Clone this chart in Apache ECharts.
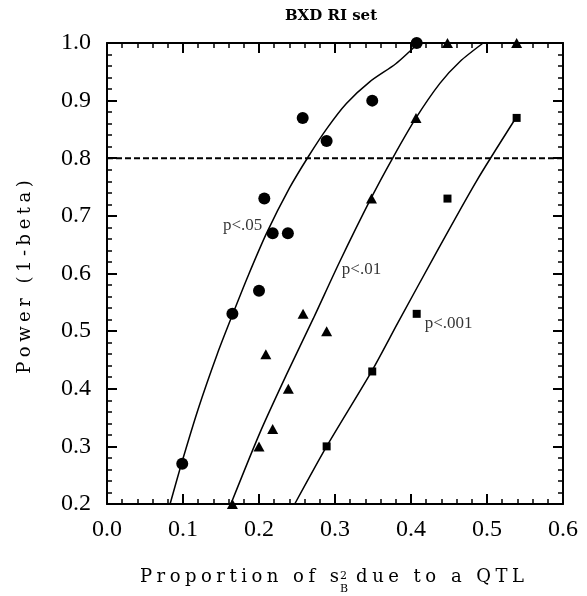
<!DOCTYPE html>
<html><head><meta charset="utf-8">
<script src="https://cdn.jsdelivr.net/npm/echarts@6/dist/echarts.min.js"></script>
<style>html,body{margin:0;padding:0;background:#fff}#c{width:587px;height:596px}</style>
</head><body><div id="c"></div>
<script>
// ---- data ----
const xTickLabels = ['0.0','0.1','0.2','0.3','0.4','0.5','0.6'];
const yTickLabels = ['0.2','0.3','0.4','0.5','0.6','0.7','0.8','0.9','1.0'];

const circleX = [0.099,0.165,0.200,0.207,0.218,0.238,0.2575,0.289,0.349,0.4075];
const circleY = [0.27,0.53,0.57,0.73,0.67,0.67,0.87,0.83,0.90,1.00];

const triX = [0.165,0.200,0.209,0.218,0.2386,0.258,0.289,0.348,0.4066,0.448,0.539];
const triY = [0.20,0.30,0.46,0.33,0.40,0.53,0.50,0.73,0.87,1.00,1.00];

const sqX = [0.289,0.349,0.4075,0.448,0.539];
const sqY = [0.30,0.43,0.53,0.73,0.87];

const curve05X = [0.083,0.098,0.120,0.145,0.165,0.186,0.210,0.240,0.265,0.289,0.315,0.346,0.380,0.410];
const curve05Y = [0.200,0.270,0.365,0.460,0.528,0.597,0.670,0.748,0.803,0.851,0.895,0.933,0.964,1.000];

const curve01X = [0.163,0.201,0.236,0.2715,0.306,0.348,0.377,0.4066,0.438,0.4645,0.495];
const curve01Y = [0.200,0.323,0.424,0.522,0.620,0.732,0.803,0.870,0.930,0.968,1.000];

const curve001X = [0.247,0.289,0.349,0.383,0.434,0.486,0.539];
const curve001Y = [0.200,0.300,0.432,0.515,0.638,0.760,0.872];

const curveLabels = ['p<.05','p<.01','p<.001'];
const curveLabelX = [0.1526,0.309,0.418];
const curveLabelY = [0.684,0.607,0.514];

const thresholdY = 0.8;
const xRange = [0,0.6];
const yRange = [0.2,1.0];

const chartTitle = 'BXD RI set';
const yTitle = 'Power (1-beta)';
const xTitleParts = ['Proportion of s','2','B','due to a QTL'];

// ---- helpers ----
const zip = (xs, ys) => xs.map((x, i) => [x, ys[i]]);
const SP = '\u2005';
const spaced = s => s.split('').join(SP);
const mctx = document.createElement('canvas').getContext('2d');
const tw = (t, f) => { mctx.font = f; return mctx.measureText(t).width; };

const chart = echarts.init(document.getElementById('c'), null, {renderer: 'canvas'});

const GRID = {left: 107, right: 24, top: 43, bottom: 92};

function xAxisCfg(pos, showLabel) {
  return {
    type: 'value', min: xRange[0], max: xRange[1], interval: 0.1, position: pos,
    axisLine: {show: true, onZero: false, lineStyle: {color: '#000', width: 2}},
    axisTick: {show: true, inside: true, length: 10, lineStyle: {color: '#000', width: 2}},
    minorTick: {show: true, splitNumber: 5, length: 5, lineStyle: {color: '#000', width: 1.5}},
    splitLine: {show: false}, minorSplitLine: {show: false},
    axisLabel: {show: showLabel, margin: 14, color: '#000', fontFamily: 'Liberation Serif', fontSize: 24,
      formatter: v => xTickLabels[Math.round(v * 10)]}
  };
}
function yAxisCfg(pos, showLabel) {
  return {
    type: 'value', min: yRange[0], max: yRange[1], interval: 0.1, position: pos,
    axisLine: {show: true, onZero: false, lineStyle: {color: '#000', width: 2}},
    axisTick: {show: true, inside: true, length: 10, lineStyle: {color: '#000', width: 2}},
    minorTick: {show: true, splitNumber: 5, length: 5, lineStyle: {color: '#000', width: 1.5}},
    splitLine: {show: false}, minorSplitLine: {show: false},
    axisLabel: {show: showLabel, margin: 16, color: '#000', fontFamily: 'Liberation Serif', fontSize: 24,
      formatter: v => yTickLabels[Math.round(v * 10) - 2]}
  };
}

const curveStyle = {color: '#000', width: 1.5};
function curveSeries(xs, ys) {
  return {type: 'line', data: zip(xs, ys), smooth: 0.25, showSymbol: false,
    symbol: 'none', lineStyle: curveStyle, clip: false, silent: true, z: 3};
}
function scatterSeries(xs, ys, symbol, size) {
  return {type: 'scatter', data: zip(xs, ys), symbol: symbol, symbolSize: size,
    itemStyle: {color: '#000', opacity: 1}, clip: false, silent: true, z: 5};
}

// x title pieces (measured so the sup/sub stack sits between the words)
const fMain = "18px 'DejaVu Serif'";
const fSmall = "11px 'DejaVu Serif'";
const xtA = spaced(xTitleParts[0]);
const xtB = spaced(xTitleParts[3]);
const wA = tw(xtA, fMain), wB = tw(xtB, fMain);
const wS = Math.max(tw(xTitleParts[1], fSmall), tw(xTitleParts[2], fSmall));
const totalW = wA + 1 + wS + 8 + wB;
const xt0 = 332 - totalW / 2;
const xtY = 577;

chart.setOption({
  animation: false,
  backgroundColor: '#fff',
  grid: Object.assign({outerBoundsMode: 'none', containLabel: false}, GRID),
  xAxis: [xAxisCfg('bottom', true), xAxisCfg('top', false)],
  yAxis: [yAxisCfg('left', true), yAxisCfg('right', false)],
  series: [
    {type: 'line', data: [[xRange[0], thresholdY], [xRange[1], thresholdY]], showSymbol: false, symbol: 'none',
      lineStyle: {color: '#000', width: 1.8, type: [6, 3]}, silent: true, z: 2},
    curveSeries(curve05X, curve05Y),
    curveSeries(curve01X, curve01Y),
    curveSeries(curve001X, curve001Y),
    scatterSeries(circleX, circleY, 'circle', 12),
    scatterSeries(triX, triY, 'triangle', [11, 10]),
    scatterSeries(sqX, sqY, 'rect', 8),
    {type: 'scatter', data: curveLabels.map((t, i) => [curveLabelX[i], curveLabelY[i], t]),
      symbolSize: 0, silent: true, clip: false, z: 6,
      label: {show: true, position: 'right', distance: 0, formatter: p => p.data[2], color: '#000',
        fontFamily: 'Liberation Serif', fontSize: 17, verticalAlign: 'middle'}}
  ],
  graphic: [
    {type: 'text', x: 331, y: 16, silent: true,
      style: {text: chartTitle, font: "bold 15px 'DejaVu Serif'", fill: '#000', align: 'center', verticalAlign: 'middle'}},
    {type: 'text', x: 25, y: 277, rotation: Math.PI / 2, silent: true,
      style: {text: spaced(yTitle), font: fMain, fill: '#000', align: 'center', verticalAlign: 'middle'}},
    {type: 'text', x: xt0, y: xtY, silent: true,
      style: {text: xtA, font: fMain, fill: '#000', align: 'left', verticalAlign: 'middle'}},
    {type: 'text', x: xt0 + wA + 1, y: xtY - 1, silent: true,
      style: {text: xTitleParts[1], font: fSmall, fill: '#000', align: 'left', verticalAlign: 'middle'}},
    {type: 'text', x: xt0 + wA + 1, y: xtY + 12, silent: true,
      style: {text: xTitleParts[2], font: fSmall, fill: '#000', align: 'left', verticalAlign: 'middle'}},
    {type: 'text', x: xt0 + wA + 1 + wS + 8, y: xtY, silent: true,
      style: {text: xtB, font: fMain, fill: '#000', align: 'left', verticalAlign: 'middle'}}
  ]
});
</script></body></html>
